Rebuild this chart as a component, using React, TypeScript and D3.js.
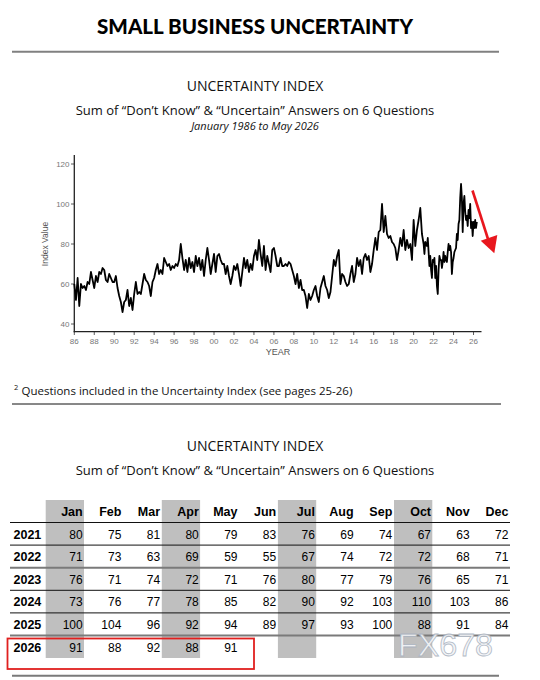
import React, { useEffect } from 'react'
import * as d3 from 'd3'

// bi-monthly readings (Jan, Mar, May, Jul, Sep, Nov) from Jan 1986 to Nov 2020
const earlyValues: number[] = [
  60, 52, 63, 49, 60, 58, // 1986
  59, 57, 61, 60, 66, 62, // 1987
  58, 64, 61, 66, 65, 68, // 1988
  67, 62, 61, 65, 63, 61, // 1989
  61, 64, 58, 54, 51, 46, // 1990
  51, 52, 57, 49, 53, 47, // 1991
  55, 61, 55, 56, 55, 60, // 1992
  65, 62, 61, 59, 54, 61, // 1993
  63, 67, 70, 65, 67, 65, // 1994
  73, 71, 69, 70, 67, 69, // 1995
  68, 70, 69, 72, 80, 73, // 1996
  67, 72, 66, 73, 68, 71, // 1997
  66, 74, 69, 73, 67, 72, // 1998
  64, 72, 78, 72, 65, 70, // 1999
  75, 66, 74, 75, 72, 70, // 2000
  70, 65, 69, 64, 60, 64, // 2001
  69, 67, 70, 65, 59, 66, // 2002
  73, 68, 72, 66, 70, 67, // 2003
  74, 77, 72, 82, 75, 69, // 2004
  79, 67, 74, 70, 66, 77, // 2005
  78, 74, 69, 69, 73, 69, // 2006
  69, 70, 69, 71, 70, 67, // 2007
  64, 60, 65, 58, 62, 57, // 2008
  57, 54, 48, 55, 52, 54, // 2009
  57, 59, 54, 51, 58, 61, // 2010
  64, 59, 57, 53, 56, 64, // 2011
  72, 69, 74, 77, 60, 65, // 2012
  64, 61, 59, 60, 65, 69, // 2013
  61, 65, 73, 69, 72, 65, // 2014
  73, 75, 72, 74, 66, 70, // 2015
  77, 83, 77, 86, 87, 100, // 2016
  86, 94, 85, 83, 84, 81, // 2017
  80, 78, 72, 77, 83, 79, // 2018
  87, 77, 82, 78, 80, 72, // 2019
  92, 79, 87, 92, 98, 85 // 2020
]

const months = ['Jan', 'Feb', 'Mar', 'Apr', 'May', 'Jun', 'Jul', 'Aug', 'Sep', 'Oct', 'Nov', 'Dec']
const shadedMonths = ['Jan', 'Apr', 'Jul', 'Oct']
const tableYears = [2021, 2022, 2023, 2024, 2025, 2026]
const tableValues: number[][] = [
  [80, 75, 81, 80, 79, 83, 76, 69, 74, 67, 63, 72],
  [71, 73, 63, 69, 59, 55, 67, 74, 72, 72, 68, 71],
  [76, 71, 74, 72, 71, 76, 80, 77, 79, 76, 65, 71],
  [73, 76, 77, 78, 85, 82, 90, 92, 103, 110, 103, 86],
  [100, 104, 96, 92, 94, 89, 97, 93, 100, 88, 91, 84],
  [91, 88, 92, 88, 91]
]
const grayRuleRows = [2023, 2026]

const yTicks = [40, 60, 80, 100, 120]
const xTicks = d3.range(1986, 2027, 2)

const sans = '"Open Sans", "Noto Sans", sans-serif'
const arial = '"Liberation Sans", Arial, sans-serif'

export default function App() {
  useEffect(() => {
    document.body.style.margin = '0'
  }, [])

  const series: [number, number][] = [
    ...earlyValues.map((v, i): [number, number] => [1986 + (i * 2) / 12, v]),
    ...tableYears.flatMap((yr, r) => tableValues[r].map((v, m): [number, number] => [yr + m / 12, v]))
  ]

  const x = d3.scaleLinear().domain([1986, 2026.8]).range([74.3, 481.5])
  const y = d3.scaleLinear().domain([40, 120]).range([324, 164])
  const line = d3.line<[number, number]>().x(d => x(d[0])).y(d => y(d[1]))

  const col = d3.scaleBand<string>().domain(months).range([45.7, 45.7 + 12 * 38.7])
  const row = d3.scaleBand<number>().domain(tableYears).range([522.5, 522.5 + 6 * 22.6])

  const cx = 255

  return (
    <svg width={540} height={680} style={{ position: 'absolute', left: 0, top: 0, background: '#fff' }}>
      {/* header */}
      <text x={cx} y={34} textAnchor="middle" fontFamily='"Lato", "DejaVu Sans", sans-serif' fontWeight={900}
        fontSize={20} textLength={316} lengthAdjust="spacingAndGlyphs" fill="#000">SMALL BUSINESS UNCERTAINTY</text>
      <line x1={12} x2={499} y1={51.7} y2={51.7} stroke="#808080" strokeWidth={2} />

      <text x={cx} y={90.5} textAnchor="middle" fontFamily={sans} fontSize={14} fill="#111">UNCERTAINTY INDEX</text>
      <text x={cx} y={115} textAnchor="middle" fontFamily={sans} fontSize={13} fill="#111">Sum of “Don’t Know” &amp; “Uncertain” Answers on 6 Questions</text>
      <text x={cx} y={129.5} textAnchor="middle" fontFamily={sans} fontSize={11} fontStyle="italic" fill="#111">January 1986 to May 2026</text>

      {/* line chart */}
      <g fontFamily={arial} fontSize={8} fill="#777">
        {yTicks.map(t => (
          <g key={t}>
            <line x1={71} x2={74.3} y1={y(t)} y2={y(t)} stroke="#333" strokeWidth={0.8} />
            <text x={69.5} y={y(t)} dy="0.33em" textAnchor="end">{t}</text>
          </g>
        ))}
        {xTicks.map(t => (
          <g key={t}>
            <line x1={x(t)} x2={x(t)} y1={331.7} y2={335} stroke="#333" strokeWidth={0.8} />
            <text x={x(t)} y={344} textAnchor="middle">{String(t % 100).padStart(2, '0')}</text>
          </g>
        ))}
      </g>
      <line x1={74.3} x2={74.3} y1={155} y2={332.3} stroke="#222" strokeWidth={1.3} />
      <line x1={73.7} x2={481.5} y1={331.7} y2={331.7} stroke="#222" strokeWidth={1.3} />
      <text transform="translate(48,244) rotate(-90)" textAnchor="middle" fontFamily={arial} fontSize={8.5} fill="#555">Index Value</text>
      <text x={278} y={355} textAnchor="middle" fontFamily={arial} fontSize={9} fill="#555">YEAR</text>

      <path d={line(series) ?? ''} fill="none" stroke="#000" strokeWidth={1.8} strokeLinejoin="round" />

      {/* red arrow */}
      <line x1={472.5} y1={190.5} x2={488} y2={239} stroke="#e8171e" strokeWidth={2.6} />
      <polygon points="480.7,240.7 497.3,235 494.3,253.3" fill="#e8171e" />

      {/* footnote */}
      <text x={14} y={390} fontFamily={sans} fontSize={7.5} fill="#111">2</text>
      <text x={21.5} y={395} fontFamily={sans} fontSize={11.5} fill="#111">Questions included in the Uncertainty Index (see pages 25-26)</text>
      <line x1={12} x2={501} y1={404} y2={404} stroke="#111" strokeWidth={1} />

      <text x={cx} y={451} textAnchor="middle" fontFamily={sans} fontSize={14} fill="#111">UNCERTAINTY INDEX</text>
      <text x={cx} y={474.5} textAnchor="middle" fontFamily={sans} fontSize={13} fill="#111">Sum of “Don’t Know” &amp; “Uncertain” Answers on 6 Questions</text>

      {/* table */}
      {shadedMonths.map(m => (
        <rect key={m} x={col(m)} y={500} width={col.bandwidth() - 0.4} height={158} fill="#bfbfbf" />
      ))}
      {months.map(m => (
        <text key={m} x={(col(m) ?? 0) + 37} y={516} textAnchor="end" fontFamily={arial} fontWeight={700}
          fontSize={12.5} fill="#000">{m}</text>
      ))}
      {tableYears.map(yr => (
        <line key={yr} x1={10} x2={510} y1={row(yr)} y2={row(yr)}
          stroke={grayRuleRows.includes(yr) ? '#7a7a7a' : '#111'} strokeWidth={grayRuleRows.includes(yr) ? 2 : 1} />
      ))}
      {tableYears.map((yr, r) => (
        <g key={yr}>
          <text x={13.5} y={(row(yr) ?? 0) + 16} fontFamily={arial} fontWeight={700} fontSize={12.5} fill="#000">{yr}</text>
          {tableValues[r].map((v, m) => (
            <text key={m} x={(col(months[m]) ?? 0) + 37} y={(row(yr) ?? 0) + 16} textAnchor="end"
              fontFamily={arial} fontSize={12} fill="#000">{v}</text>
          ))}
        </g>
      ))}
      <line x1={12} x2={499} y1={675.7} y2={675.7} stroke="#7a7a7a" strokeWidth={2} />

      <rect x={7.5} y={638.5} width={246.5} height={30.5} fill="none" stroke="#e0201f" strokeWidth={1.8} />

      <text x={398} y={656} fontFamily={arial} fontSize={31} textLength={95} lengthAdjust="spacingAndGlyphs"
        fill="#f3f5f8" stroke="#aab3c0" strokeWidth={0.8} opacity={0.9}>FX678</text>
    </svg>
  )
}
